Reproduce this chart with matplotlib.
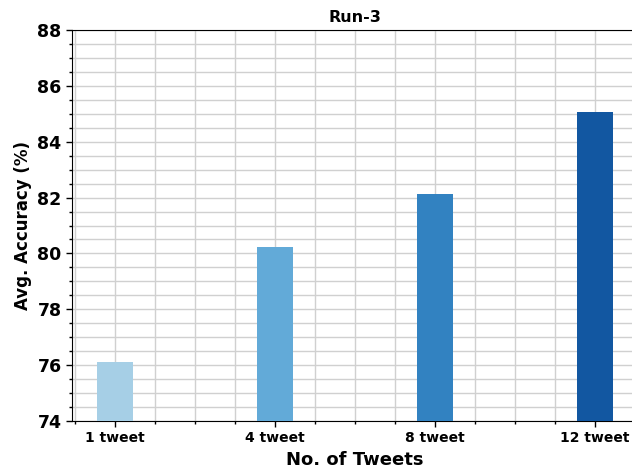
import matplotlib
matplotlib.use("Agg")
import matplotlib.pyplot as plt
from matplotlib.ticker import MultipleLocator

labels = ["1 tweet", "4 tweet", "8 tweet", "12 tweet"]
accuracy = [76.12, 80.22, 82.13, 85.07]
colors = ["#a6cfe6", "#62aad8", "#3282c1", "#1257a1"]

fig = plt.figure(figsize=(6.32, 4.70), dpi=100)
ax = fig.add_axes([72 / 632, 49 / 470, 566 / 632, 391 / 470])

x = list(range(len(labels)))
ax.bar(x, accuracy, width=0.225, color=colors, zorder=3)

ax.set_xlim(-0.27, 3.27)
ax.set_ylim(74, 88)
ax.set_xticks(x)
ax.set_xticklabels(labels, fontsize=10, fontweight="bold")
ax.xaxis.set_minor_locator(MultipleLocator(0.25))
ax.yaxis.set_major_locator(MultipleLocator(2))
ax.yaxis.set_minor_locator(MultipleLocator(0.5))
for t in ax.get_yticklabels():
    t.set_fontsize(12.5)
    t.set_fontweight("bold")

ax.grid(True, which="both", color="#d0d0d0", linewidth=1, zorder=0)
ax.set_axisbelow(True)
ax.spines["right"].set_visible(False)
ax.tick_params(which="major", length=4, width=1)
ax.tick_params(which="minor", length=2.5, width=1)

ax.set_title("Run-3", fontsize=11.5, fontweight="bold")
ax.set_xlabel("No. of Tweets", fontsize=13, fontweight="bold")
ax.set_ylabel("Avg. Accuracy (%)", fontsize=12, fontweight="bold")

fig.savefig("out.png", dpi=100)
